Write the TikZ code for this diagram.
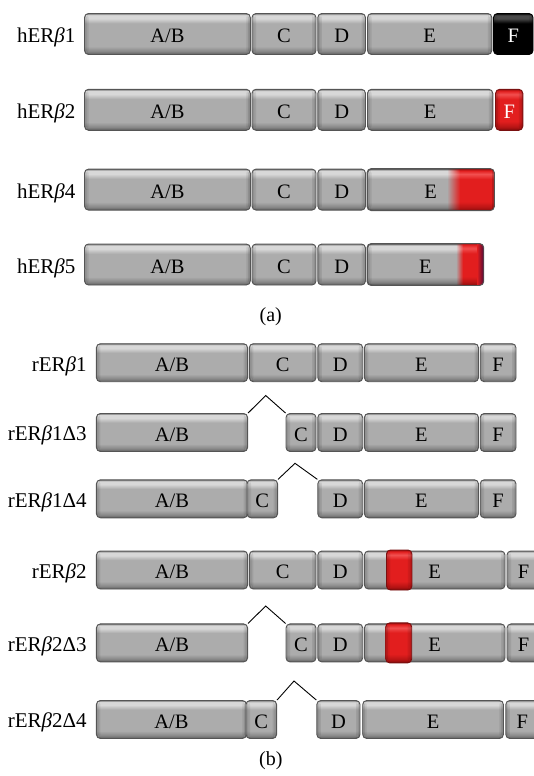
\documentclass[tikz,border=0pt]{standalone}
\usepackage{fontspec}
\setmainfont{Liberation Serif}
\usetikzlibrary{fadings}
\definecolor{segtopedge}{HTML}{7C7C7C}
\definecolor{seghi}{HTML}{D8D8D8}
\definecolor{segmid}{HTML}{ACACAC}
\definecolor{segbot}{HTML}{888888}
\definecolor{segdk}{HTML}{5E5E5E}
\definecolor{segborder}{HTML}{555555}
\definecolor{rdk}{HTML}{7E0A0A}
\definecolor{rbot}{HTML}{B51414}
\definecolor{rmid}{HTML}{E21E1E}
\definecolor{rhi}{HTML}{F25050}
\definecolor{rtop}{HTML}{A01010}
\definecolor{redborder}{HTML}{7A1010}
\definecolor{bhi}{HTML}{4A4A4A}
\definecolor{purpdk}{HTML}{4A0838}
\pgfdeclareverticalshading{segshade}{100bp}{color(0bp)=(segdk); color(25bp)=(segdk); color(29bp)=(segbot); color(35bp)=(segmid); color(63bp)=(segmid); color(69bp)=(seghi); color(73bp)=(seghi); color(75bp)=(segtopedge); color(100bp)=(segtopedge)}
\pgfdeclareverticalshading{redshade}{100bp}{color(0bp)=(rdk); color(25bp)=(rdk); color(29bp)=(rbot); color(36bp)=(rmid); color(63bp)=(rmid); color(69bp)=(rhi); color(73bp)=(rmid); color(75bp)=(rtop); color(100bp)=(rtop)}
\pgfdeclareverticalshading{blackshade}{100bp}{color(0bp)=(black); color(63bp)=(black); color(69bp)=(bhi); color(73bp)=(bhi); color(75bp)=(black); color(100bp)=(black)}
\newcommand\boxfont{\fontsize{20.5}{20.5}\selectfont}
\newcommand\labfont{\fontsize{21}{21}\selectfont}
\newcommand\bet{{\itshape β}}
\tikzset{
  bevel/.style={path picture={
    \fill[black,opacity=0.16] (path picture bounding box.north west) rectangle ([xshift=2.2pt]path picture bounding box.south west);
    \fill[black,opacity=0.08] ([xshift=2.2pt]path picture bounding box.north west) rectangle ([xshift=4pt]path picture bounding box.south west);
    \fill[black,opacity=0.16] (path picture bounding box.north east) rectangle ([xshift=-2.2pt]path picture bounding box.south east);
    \fill[black,opacity=0.08] ([xshift=-2.2pt]path picture bounding box.north east) rectangle ([xshift=-4pt]path picture bounding box.south east);
  }},
  seg/.style={draw=segborder, line width=0.9pt, rounded corners=4pt, shading=segshade, bevel,
    inner sep=0pt, font=\boxfont, text height=17pt, text depth=0pt},
  hrow/.style={minimum height=41pt},
  rrow/.style={minimum height=38pt},
  redseg/.style={seg, shading=redshade, draw=redborder, text=white},
  blackseg/.style={seg, shading=blackshade, draw=black, text=white},
  lab/.style={anchor=base east, font=\labfont, inner sep=0pt},
  captext/.style={font=\fontsize{20}{20}\selectfont, inner sep=0pt},
  link/.style={draw=black, line width=0.9pt}
}
\begin{document}
\begin{tikzpicture}[x=1pt,y=-1pt]
\useasboundingbox (0,0) rectangle (534,776);
% ---------- (a) human ----------
% hERb1
\node[lab] (lh1) at (75.6,42.6) {hER\bet1};
\node[seg,hrow,minimum width=165.8] (h1ab) at (167.4,34) {A/B};
\node[seg,hrow,minimum width=64] (h1c) at (284,34) {C};
\node[seg,hrow,minimum width=47.7] (h1d) at (341.65,34) {D};
\node[seg,hrow,minimum width=124.3] (h1e) at (429.65,34) {E};
\node[blackseg,hrow,minimum width=39.5] (h1f) at (513.25,34) {F};
% hERb2
\node[lab] (lh2) at (75.6,118.4) {hER\bet2};
\node[seg,hrow,minimum width=165.8] (h2ab) at (167.4,109.8) {A/B};
\node[seg,hrow,minimum width=64] (h2c) at (284,109.8) {C};
\node[seg,hrow,minimum width=47.7] (h2d) at (341.65,109.8) {D};
\node[seg,hrow,minimum width=125.3] (h2e) at (430.15,109.8) {E};
\node[redseg,hrow,minimum width=27.2] (h2f) at (509.2,109.8) {F};
% hERb4
\node[lab] (lh4) at (75.6,198.2) {hER\bet4};
\node[seg,hrow,minimum width=165.8] (h4ab) at (167.4,189.6) {A/B};
\node[seg,hrow,minimum width=64] (h4c) at (284,189.6) {C};
\node[seg,hrow,minimum width=47.7] (h4d) at (341.65,189.6) {D};
\node[seg,hrow,minimum width=126.4] (h4e) at (430.7,189.6) {E};
\begin{scope}
  \clip[rounded corners=4pt] (h4e.north west) rectangle (h4e.south east);
  \shade[shading=redshade, path fading=west] (447,169) rectangle (460,211);
  \shade[shading=redshade] (460,169) rectangle (495,211);
  \fill[black,opacity=0.16] (491.5,169) rectangle (495,211);
\end{scope}
\draw[draw=segborder, line width=0.9pt, rounded corners=4pt] (h4e.north west) rectangle (h4e.south east);
% hERb5
\node[lab] (lh5) at (75.6,273.1) {hER\bet5};
\node[seg,hrow,minimum width=165.8] (h5ab) at (167.4,264.5) {A/B};
\node[seg,hrow,minimum width=64] (h5c) at (284,264.5) {C};
\node[seg,hrow,minimum width=47.7] (h5d) at (341.65,264.5) {D};
\node[seg,hrow,minimum width=115.8] (h5e) at (425.4,264.5) {E};
\begin{scope}
  \clip[rounded corners=4pt] (h5e.north west) rectangle (h5e.south east);
  \shade[shading=redshade, path fading=west] (456,243) rectangle (463,286);
  \shade[shading=redshade] (463,243) rectangle (477,286);
  \shade[left color=rmid, right color=purpdk] (477,243) rectangle (484,286);
\end{scope}
\draw[draw=segborder, line width=0.9pt, rounded corners=4pt] (h5e.north west) rectangle (h5e.south east);
\node[captext] (capa) at (270.8,317) {(a)};
% ---------- (b) rat ----------
% rERb1
\node[lab] (lr1) at (86.9,371) {rER\bet1};
\node[seg,rrow,minimum width=151.2] (r1ab) at (172,362.7) {A/B};
\node[seg,rrow,minimum width=66.7] (r1c) at (282.65,362.7) {C};
\node[seg,rrow,minimum width=44.9] (r1d) at (340.25,362.7) {D};
\node[seg,rrow,minimum width=114.1] (r1e) at (421.45,362.7) {E};
\node[seg,rrow,minimum width=35.8] (r1f) at (498.1,362.7) {F};
% rERb1D3
\node[lab] (lr2) at (86.9,440.8) {rER\bet1Δ3};
\node[seg,rrow,minimum width=151.2] (r2ab) at (172,432.5) {A/B};
\node[seg,rrow,minimum width=30] (r2c) at (301,432.5) {C};
\node[seg,rrow,minimum width=44.9] (r2d) at (340.25,432.5) {D};
\node[seg,rrow,minimum width=114.1] (r2e) at (421.45,432.5) {E};
\node[seg,rrow,minimum width=35.8] (r2f) at (498.1,432.5) {F};
\coordinate (p2) at (265.7,395.5);
\draw[link] (r2ab.north east) -- (p2) -- (r2c.north west);
% rERb1D4
\node[lab] (lr3) at (86.9,507.1) {rER\bet1Δ4};
\node[seg,rrow,minimum width=151.2] (r3ab) at (172,498.8) {A/B};
\node[seg,rrow,minimum width=30.6] (r3c) at (262.3,498.8) {C};
\node[seg,rrow,minimum width=44.9] (r3d) at (340.25,498.8) {D};
\node[seg,rrow,minimum width=114.1] (r3e) at (421.45,498.8) {E};
\node[seg,rrow,minimum width=35.8] (r3f) at (498.1,498.8) {F};
\coordinate (p3) at (295,463.3);
\draw[link] (r3c.north east) -- (p3) -- (r3d.north west);
% rERb2
\node[lab] (lr4) at (86.9,578.3) {rER\bet2};
\node[seg,rrow,minimum width=151.2] (r4ab) at (172,570) {A/B};
\node[seg,rrow,minimum width=66.7] (r4c) at (282.65,570) {C};
\node[seg,rrow,minimum width=44.9] (r4d) at (340.25,570) {D};
\node[seg,rrow,minimum width=140.6] (r4e) at (434.7,570) {E};
\node[seg,rrow,minimum width=33] (r4f) at (523.5,570) {F};
\node[redseg,minimum height=40pt,minimum width=25.5] (r4x) at (399.2,570) {};
% rERb2D3
\node[lab] (lr5) at (86.9,651.2) {rER\bet2Δ3};
\node[seg,rrow,minimum width=151.2] (r5ab) at (172,642.9) {A/B};
\node[seg,rrow,minimum width=30] (r5c) at (301,642.9) {C};
\node[seg,rrow,minimum width=44.9] (r5d) at (340.25,642.9) {D};
\node[seg,rrow,minimum width=140.6] (r5e) at (434.7,642.9) {E};
\node[seg,rrow,minimum width=33] (r5f) at (523.5,642.9) {F};
\node[redseg,minimum height=40pt,minimum width=26] (r5x) at (398.7,642.9) {};
\coordinate (p5) at (265.7,606);
\draw[link] (r5ab.north east) -- (p5) -- (r5c.north west);
% rERb2D4
\node[lab] (lr6) at (86.9,727.8) {rER\bet2Δ4};
\node[seg,rrow,minimum width=150] (r6ab) at (171.4,719.5) {A/B};
\node[seg,rrow,minimum width=30.6] (r6c) at (261.3,719.5) {C};
\node[seg,rrow,minimum width=43.2] (r6d) at (338.4,719.5) {D};
\node[seg,rrow,minimum width=140.7] (r6e) at (433.05,719.5) {E};
\node[seg,rrow,minimum width=33] (r6f) at (522.3,719.5) {F};
\coordinate (p6) at (294,681);
\draw[link] (r6c.north east) -- (p6) -- (r6d.north west);
\node[captext] (capb) at (270.8,761) {(b)};
\end{tikzpicture}
\end{document}
